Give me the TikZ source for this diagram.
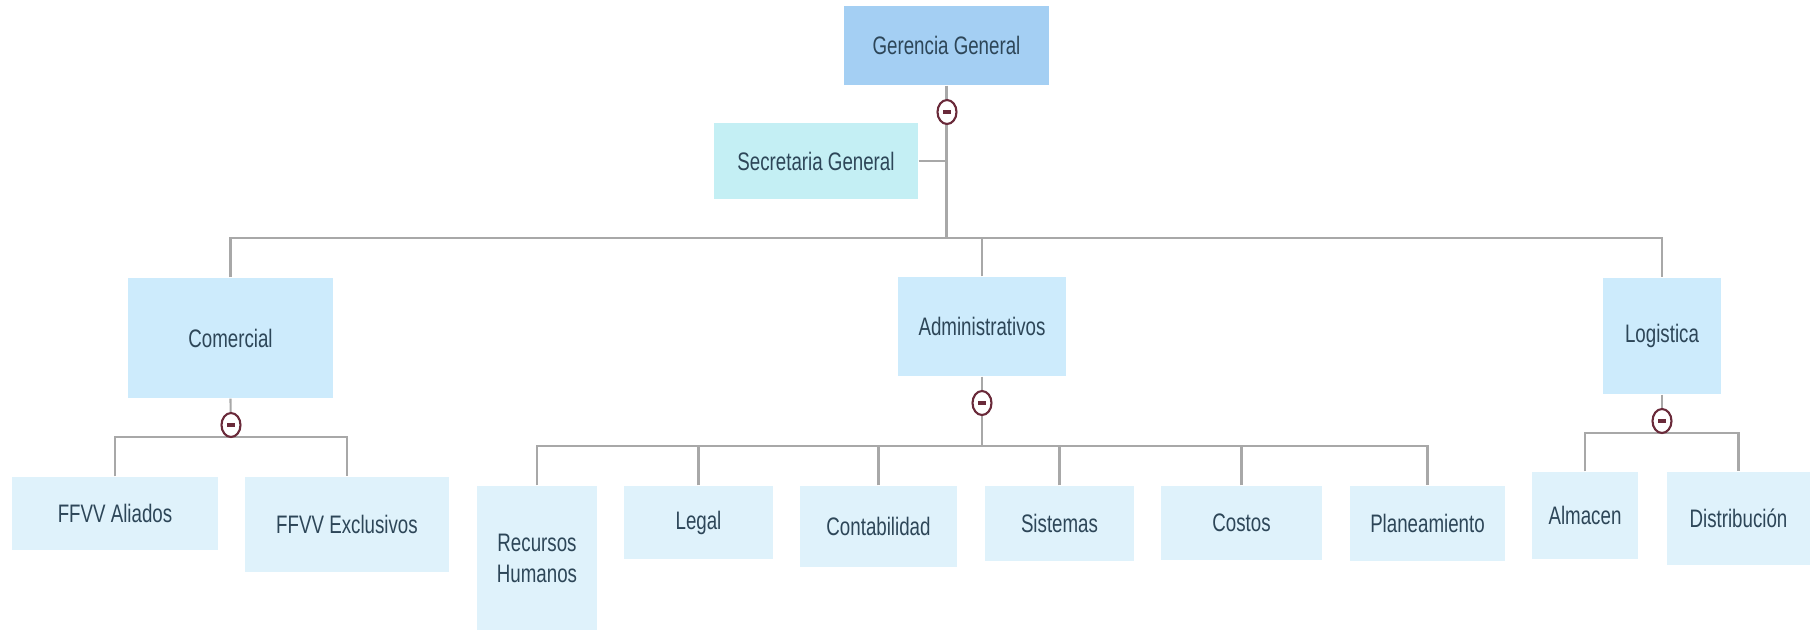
\documentclass[tikz,border=0pt]{standalone}
\usepackage{fontspec}
\setmainfont{Liberation Sans}[FakeStretch=0.74]
\usetikzlibrary{shapes.geometric}
\definecolor{topfill}{HTML}{A4CFF3}
\definecolor{secfill}{HTML}{C4EFF4}
\definecolor{unitfill}{HTML}{CDEBFC}
\definecolor{subfill}{HTML}{DFF2FB}
\definecolor{linecol}{HTML}{A8A8A8}
\definecolor{txtcol}{HTML}{2D4658}
\definecolor{tglcol}{HTML}{6A2A3A}
\begin{document}
\begin{tikzpicture}[x=0.1mm, y=-0.1mm,
  box/.style={rectangle, inner sep=0pt, align=center, text=txtcol,
    font=\fontsize{7.2}{8.8}\selectfont},
  head/.style={box, fill=topfill},
  sec/.style={box, fill=secfill},
  unit/.style={box, fill=unitfill},
  sub/.style={box, fill=subfill},
  link/.style={draw=linecol, line width=0.6pt},
  toggle/.style={ellipse, draw=tglcol, line width=0.6pt, fill=white,
    minimum width=1.9mm, minimum height=2.4mm, inner sep=0pt,
    path picture={\draw[tglcol, line width=1pt]
      (path picture bounding box.center) +(-4,0) -- +(4,0);}}]
  \useasboundingbox (0,0) rectangle (1810,633);
  % top level
  \node[head, minimum width=20.5mm, minimum height=7.9mm] (gg) at (946.5,45.5) {Gerencia General};
  \node[sec, minimum width=20.4mm, minimum height=7.6mm] (sg) at (816,161) {Secretaria General};
  % areas
  \node[unit, minimum width=20.5mm, minimum height=12mm] (com) at (230.5,338) {Comercial};
  \node[unit, minimum width=16.8mm, minimum height=9.9mm] (adm) at (982,326.5) {Administrativos};
  \node[unit, minimum width=11.8mm, minimum height=11.6mm] (log) at (1662,336) {Logistica};
  % comercial units
  \node[sub, minimum width=20.6mm, minimum height=7.3mm] (ffa) at (115,513.5) {FFVV Aliados};
  \node[sub, minimum width=20.4mm, minimum height=9.5mm] (ffe) at (347,524.5) {FFVV Exclusivos};
  % administrative units
  \node[sub, minimum width=12mm, minimum height=14.4mm] (rh) at (537,558) {Recursos\\Humanos};
  \node[sub, minimum width=14.9mm, minimum height=7.3mm] (leg) at (698.5,522.5) {Legal};
  \node[sub, minimum width=15.7mm, minimum height=8.1mm] (cont) at (878.5,526.5) {Contabilidad};
  \node[sub, minimum width=14.9mm, minimum height=7.5mm] (sis) at (1059.5,523.5) {Sistemas};
  \node[sub, minimum width=16.1mm, minimum height=7.4mm] (cos) at (1241.5,523) {Costos};
  \node[sub, minimum width=15.5mm, minimum height=7.5mm] (plan) at (1427.5,523.5) {Planeamiento};
  % logistic units
  \node[sub, minimum width=10.6mm, minimum height=8.7mm] (alm) at (1585,515.5) {Almacen};
  \node[sub, minimum width=14.3mm, minimum height=9.3mm] (dist) at (1738.5,518.5) {Distribución};
  % bus points
  \coordinate (bus) at (947,238);
  \coordinate (cbus) at (231,437);
  \coordinate (abus) at (982,446);
  \coordinate (lbus) at (1662,433);
  % trunk and main bus
  \draw[link] (gg.south) -- (gg.south |- bus);
  \draw[link] (sg.east) -- (sg.east -| gg.south);
  \draw[link] (com.north) |- (bus) -| (log.north);
  \draw[link] (adm.north) -- (adm.north |- bus);
  % comercial branch
  \draw[link] (com.south) -- (cbus);
  \draw[link] (ffa.north) |- (cbus) -| (ffe.north);
  % administrative branch
  \draw[link] (adm.south) -- (abus);
  \draw[link] (rh.north) |- (abus) -| (plan.north);
  \foreach \n in {leg,cont,sis,cos}
    \draw[link] (\n.north) -- (\n.north |- abus);
  % logistic branch
  \draw[link] (log.south) -- (lbus);
  \draw[link] (alm.north) |- (lbus) -| (dist.north);
  % collapse toggles
  \node[toggle] (tgg) at (947,112) {};
  \node[toggle] (tcom) at (231,425) {};
  \node[toggle] (tadm) at (982,403) {};
  \node[toggle] (tlog) at (1662,421) {};
\end{tikzpicture}
\end{document}
